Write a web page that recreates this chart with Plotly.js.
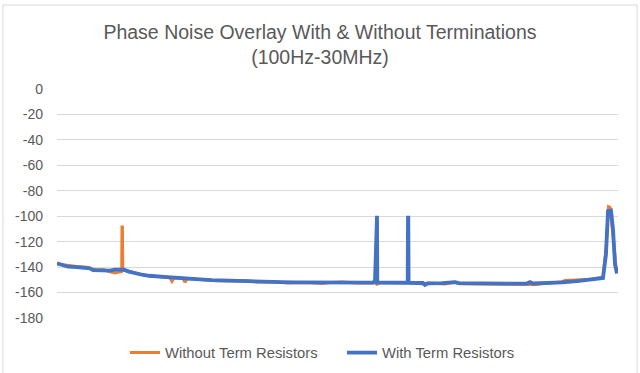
<!DOCTYPE html>
<html>
<head>
<meta charset="utf-8">
<script src="https://cdn.plot.ly/plotly-3.0.1.min.js"></script>
<style>html,body{margin:0;padding:0;background:#fff;}#chart{width:640px;height:373px;}</style>
</head>
<body>
<div id="chart"></div>
<script>
// Sample position (0..561 across the frequency sweep 100Hz-30MHz) and phase noise (dBc/Hz)
const withoutSample = [0,5,12,20,30,35,40,47,52,58,62,64.7,65,65.4,65.8,70,76,82,88,95,105,110,113,115,117,126,128,130,140,160,175,190,200,215,230,250,265,275,285,300,318,320,323,350,368,370,388,398,402,420,470,478,485,505,508,520,535,546,549,551.5,553,556,559,561];
const withoutTerm   = [-137.5,-138,-138.8,-139.5,-140,-141.5,-142,-142,-143.5,-144.5,-143.8,-143.5,-108.5,-108.5,-142.3,-143,-144.5,-145.5,-146.5,-147,-147.5,-148,-148.5,-151.2,-148.5,-149,-152,-149.2,-149.5,-150.8,-151,-150.8,-151.8,-151.5,-152.5,-152,-152.8,-152,-151.8,-152.4,-152.5,-153.5,-152.3,-152.3,-153.2,-152.5,-153.3,-152,-153,-153.1,-153,-153.6,-153,-151.5,-150.5,-150,-149.5,-148,-125,-92.5,-93,-115,-140,-142];

const withSample = [0,5,11,20,30,33,36,45,53,58,63,67,72,78,85,92,100,110,118,125,135,143,155,171,190,205,225,238,260,283,300,316,318,319.9,320,320.3,340,350.7,351,351.3,351.6,360,366,368,371,385,394,398,402,420,450,470,473,476,490,505,520,535,546,549,551,554,556,558,560];
const withTerm   = [-137,-138,-139.7,-140,-140.2,-141,-142.3,-142.5,-142.8,-142,-141.6,-142,-143.5,-145,-146,-146.8,-147,-147.8,-148.3,-148.8,-149.3,-149.6,-150.2,-150.7,-151.2,-151.5,-151.8,-152,-152.2,-152.3,-152.3,-152.2,-151,-99.6,-99.6,-152.2,-152.3,-152.3,-101.2,-101.2,-152.3,-152.3,-152.5,-154,-152.8,-152.6,-152.4,-151.8,-152.6,-153,-153,-152.9,-151.8,-152.9,-152.8,-152,-151,-149.8,-148.5,-130,-96,-95.5,-110,-138,-145];

const seriesNames = ["Without Term Resistors", "With Term Resistors"];
const yTicks = [0,-20,-40,-60,-80,-100,-120,-140,-160,-180];

const FONT = "Liberation Sans, Arial, sans-serif";
const traces = [
  {x: withoutSample, y: withoutTerm, name: seriesNames[0], type: "scatter", mode: "lines",
   line: {color: "#ED7D31", width: 3}},
  {x: withSample, y: withTerm, name: seriesNames[1], type: "scatter", mode: "lines",
   line: {color: "#4472C4", width: 3.8}}
];

const layout = {
  width: 640, height: 373,
  margin: {l: 57, r: 22, t: 89, b: 55, pad: 0},
  paper_bgcolor: "#ffffff", plot_bgcolor: "#ffffff",
  font: {family: FONT, color: "#595959", size: 14},
  title: {text: "Phase Noise Overlay With & Without Terminations<br>(100Hz-30MHz)",
          font: {family: FONT, size: 19.5, color: "#595959"},
          x: 0.5, xref: "container", xanchor: "center",
          y: 1 - 39/373, yanchor: "middle", yref: "container"},
  xaxis: {range: [0, 561], showgrid: false, zeroline: false, showticklabels: false,
          ticks: "", showline: false, fixedrange: true},
  yaxis: {range: [-180, 0], tickvals: yTicks, ticktext: yTicks.map(String),
          showgrid: true, gridcolor: "#D9D9D9", gridwidth: 1, zeroline: false,
          showline: false, ticks: "", ticklabelstandoff: 13,
          tickfont: {family: FONT, size: 14, color: "#595959"}},
  showlegend: true,
  legend: {orientation: "h", xref: "container", x: 125/640, xanchor: "left",
           yref: "container", y: 20/373, yanchor: "middle",
           entrywidth: 172, entrywidthmode: "pixels",
           font: {family: FONT, size: 14.8, color: "#595959"}, traceorder: "normal",
           itemwidth: 30, bgcolor: "rgba(0,0,0,0)"},
  shapes: [
    {type: "rect", xref: "paper", yref: "paper", x0: -0.0963, x1: 1.0339, y0: -0.3, y1: 1.3668,
     line: {color: "#D9D9D9", width: 1}, fillcolor: "rgba(0,0,0,0)", layer: "below"}
  ]
};
Plotly.newPlot("chart", traces, layout, {displayModeBar: false, staticPlot: true});
</script>
</body>
</html>
